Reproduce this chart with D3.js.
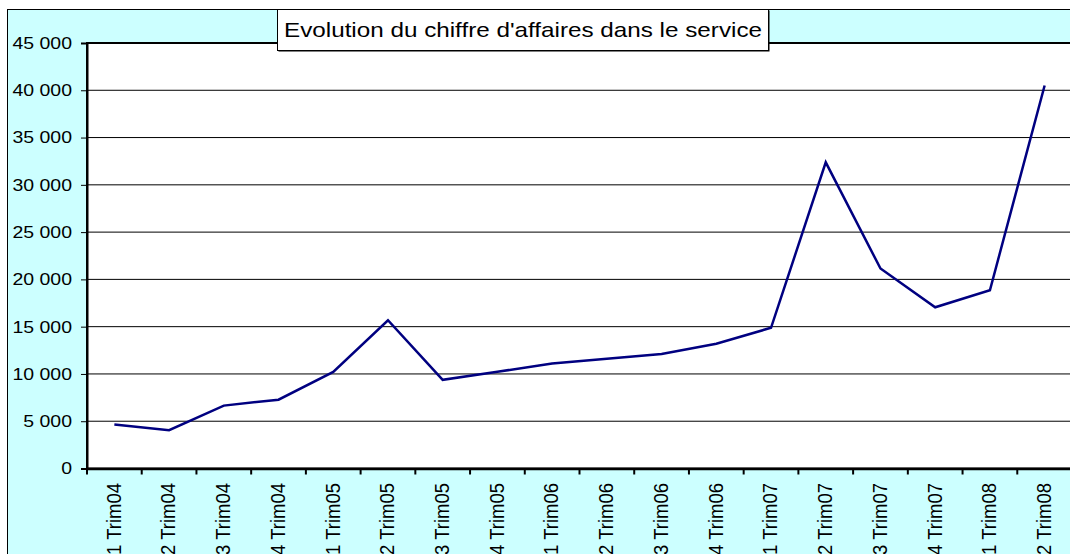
<!DOCTYPE html>
<html>
<head>
<meta charset="utf-8">
<script src="https://cdn.jsdelivr.net/npm/d3@7"></script>
<style>
  body { margin: 0; background: #fff; }
  text { font-family: "Liberation Sans", Arial, sans-serif; fill: #000; }
</style>
</head>
<body>
<div class="graphbox"></div>
<script>
var quarters = ["1 Trim04","2 Trim04","3 Trim04","4 Trim04","1 Trim05","2 Trim05","3 Trim05","4 Trim05",
  "1 Trim06","2 Trim06","3 Trim06","4 Trim06","1 Trim07","2 Trim07","3 Trim07","4 Trim07","1 Trim08","2 Trim08"]
var chiffre = [4650,4050,6650,7280,10220,15680,9380,10230,11100,11600,12120,13200,14880,32380,21150,17050,18850,40500]
var yTicks = [0,5000,10000,15000,20000,25000,30000,35000,40000,45000]
var titre = "Evolution du chiffre d'affaires dans le service"

var svgWidth = 1070;
var svgHeight = 554;
var plotLeft = 87, plotTop = 43, plotBottom = 468.5, plotRight = 1072;
var stretch = 1.18; // the original picture is widened

var fmt = d3.formatLocale({decimal: ",", thousands: " ", grouping: [3], currency: ["", ""]}).format(",d");

var mysvg = d3.select(".graphbox")
  .append("svg")
  .attr("width", svgWidth)
  .attr("height", svgHeight);

// outer chart area
mysvg.append("rect")
  .attr("x", 7.5).attr("y", 9.5)
  .attr("width", svgWidth + 10).attr("height", svgHeight + 10)
  .attr("fill", "#CCFFFF")
  .attr("stroke", "#000")
  .attr("stroke-width", 1);

var x = d3.scaleBand().domain(quarters).range([plotLeft, plotRight]);
var y = d3.scaleLinear().domain([0, 45000]).range([plotBottom, plotTop]);

// plot area
mysvg.append("rect")
  .attr("x", plotLeft).attr("y", plotTop)
  .attr("width", plotRight - plotLeft + 10).attr("height", plotBottom - plotTop)
  .attr("fill", "#fff")
  .attr("stroke", "#000")
  .attr("stroke-width", 2);

// gridlines
mysvg.selectAll("line.grid")
  .data(yTicks.slice(1, -1))
  .enter()
  .append("line")
  .attr("class", "grid")
  .attr("x1", plotLeft).attr("x2", svgWidth)
  .attr("y1", function(d) { return y(d); })
  .attr("y2", function(d) { return y(d); })
  .attr("stroke", "#000")
  .attr("stroke-width", 1);

// y axis
var yAxis = mysvg.append("g")
  .attr("transform", "translate(" + plotLeft + ",0)")
  .call(d3.axisLeft(y).tickValues(yTicks).tickSize(6).tickPadding(0).tickFormat(function() { return ""; }));
yAxis.select(".domain").attr("stroke-width", 2);
yAxis.selectAll(".tick line").attr("stroke-width", 1);

mysvg.selectAll("text.ylab")
  .data(yTicks)
  .enter()
  .append("text")
  .attr("class", "ylab")
  .attr("text-anchor", "end")
  .attr("dy", "0.36em")
  .style("font-size", "16.5px")
  .attr("transform", function(d) { return "translate(72," + y(d) + ") scale(" + stretch + ",1)"; })
  .text(function(d) { return fmt(d); });

// x axis
var xAxis = mysvg.append("g")
  .attr("transform", "translate(0," + plotBottom + ")")
  .call(d3.axisBottom(x).tickSize(0).tickFormat(function() { return ""; }));
xAxis.select(".domain").attr("stroke-width", 2.5);

mysvg.selectAll("line.xtick")
  .data(quarters)
  .enter()
  .append("line")
  .attr("class", "xtick")
  .attr("x1", function(d) { return x(d); })
  .attr("x2", function(d) { return x(d); })
  .attr("y1", plotBottom).attr("y2", plotBottom + 6)
  .attr("stroke", "#000")
  .attr("stroke-width", 2);

mysvg.selectAll("text.xlab")
  .data(quarters)
  .enter()
  .append("text")
  .attr("class", "xlab")
  .attr("text-anchor", "end")
  .attr("dy", "0.31em")
  .style("font-size", "18.5px")
  .attr("transform", function(d) {
    return "translate(" + (x(d) + x.bandwidth() / 2) + ",483) scale(1.1,1) rotate(-90)";
  })
  .text(function(d) { return d; });

// the series
var line = d3.line()
  .x(function(d, i) { return x(quarters[i]) + x.bandwidth() / 2; })
  .y(function(d) { return y(d); });

mysvg.append("path")
  .datum(chiffre)
  .attr("d", line)
  .attr("fill", "none")
  .attr("stroke", "#000080")
  .attr("stroke-width", 2.5)
  .attr("stroke-linejoin", "miter");

// title box
mysvg.append("rect")
  .attr("x", 278.5).attr("y", 10.5)
  .attr("width", 491).attr("height", 41)
  .attr("fill", "#000");
mysvg.append("rect")
  .attr("x", 277.5).attr("y", 9.5)
  .attr("width", 491).attr("height", 41)
  .attr("fill", "#fff")
  .attr("stroke", "#000")
  .attr("stroke-width", 1);
mysvg.append("text")
  .attr("x", 284).attr("y", 37)
  .attr("textLength", 478)
  .attr("lengthAdjust", "spacingAndGlyphs")
  .style("font-size", "21px")
  .text(titre);
</script>
</body>
</html>
